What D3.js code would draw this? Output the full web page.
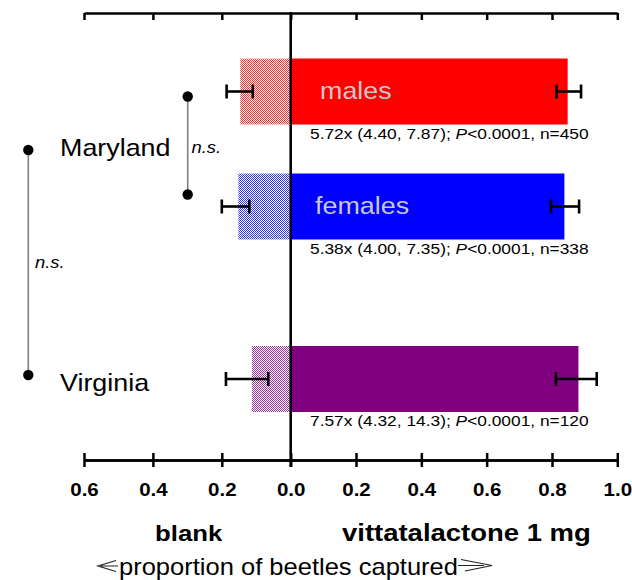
<!DOCTYPE html>
<html>
<head>
<meta charset="utf-8">
<script src="https://cdn.jsdelivr.net/npm/d3@7"></script>
<style>
  body { margin: 0; background: #fff; }
  svg { display: block; font-family: "Liberation Sans", Arial, sans-serif; }
</style>
</head>
<body>
<svg id="chart" width="632" height="580"></svg>
<script>
// Data
const groups = ["males", "females", "Virginia"];
const barLabels = ["males", "females", ""];
const colors = ["#ff0000", "#0000ff", "#800080"];

const blankMean = [0.146, 0.152, 0.113];
const blankLo = [0.110, 0.120, 0.065];
const blankHi = [0.186, 0.200, 0.188];

const lureMean = [0.848, 0.838, 0.881];
const lureLo = [0.814, 0.797, 0.812];
const lureHi = [0.889, 0.883, 0.937];

const ratios = ["5.72x (4.40, 7.87); ", "5.38x (4.00, 7.35); ", "7.57x (4.32, 14.3); "];
const pValues = ["<0.0001", "<0.0001", "<0.0001"];
const nValues = [450, 338, 120];

const tickValues = [-0.6, -0.4, -0.2, 0, 0.2, 0.4, 0.6, 0.8, 1.0];

// Layout
const rowIndex = [0, 1, 2.5];
const svg = d3.select("#chart");

// blank side (left) and lure side (right) have slightly different pixel scales
const x = d3.scaleLinear().domain([-0.6, 0, 1]).range([84, 290.7, 617.3]);
const y = d3.scaleLinear().domain([0, 2.5]).range([91.5, 379]);
const barH = 66;
const axisTopY = 13, axisBotY = 460;

// checker patterns for the blank bars
const defs = svg.append("defs");
colors.forEach((c, i) => {
    const p = defs.append("pattern")
        .attr("id", "chk" + i)
        .attr("patternUnits", "userSpaceOnUse")
        .attr("width", 2).attr("height", 2);
    p.append("rect").attr("width", 2).attr("height", 2).attr("fill", "#fff");
    p.append("rect").attr("width", 1).attr("height", 1).attr("fill", c);
    p.append("rect").attr("x", 1).attr("y", 1).attr("width", 1).attr("height", 1).attr("fill", c);
});

// stretched text helper (the figure text is wider than the font)
function label(sel, px, py, txt, size, sx, opts = {}) {
    return sel.append("text")
        .attr("transform", `translate(${px},${py}) scale(${sx},1)`)
        .attr("font-size", size)
        .attr("font-weight", opts.bold ? "bold" : null)
        .attr("font-style", opts.italic ? "italic" : null)
        .attr("text-anchor", opts.anchor || "start")
        .attr("fill", opts.fill || "#000")
        .text(txt);
}

// Bars
groups.forEach((g, i) => {
    const cy = y(rowIndex[i]);
    svg.append("rect")
        .attr("x", x(-blankMean[i]))
        .attr("y", cy - barH / 2)
        .attr("width", x(0) - x(-blankMean[i]))
        .attr("height", barH)
        .attr("fill", `url(#chk${i})`)
        .attr("opacity", 0.8);
    svg.append("rect")
        .attr("x", x(0))
        .attr("y", cy - barH / 2)
        .attr("width", x(lureMean[i]) - x(0))
        .attr("height", barH)
        .attr("fill", colors[i]);
});

// Error bars
function errBar(x0, x1, cy) {
    const e = svg.append("g").attr("stroke", "#000").attr("stroke-width", 2.6);
    e.append("line").attr("x1", x0).attr("x2", x1).attr("y1", cy).attr("y2", cy);
    [x0, x1].forEach(xx => e.append("line")
        .attr("x1", xx).attr("x2", xx).attr("y1", cy - 7).attr("y2", cy + 7));
}
groups.forEach((g, i) => {
    const cy = y(rowIndex[i]);
    errBar(x(-blankHi[i]), x(-blankLo[i]), cy);
    errBar(x(lureLo[i]), x(lureHi[i]), cy);
});

// Labels inside bars
barLabels.forEach((t, i) => {
    if (!t) return;
    label(svg, 320 - (i * 5), y(rowIndex[i]) + 7, t, 24, 1.12, { fill: "#c8c8c8" });
});

// Statistics under bars
groups.forEach((g, i) => {
    const t = svg.append("text")
        .attr("transform", `translate(310,${y(rowIndex[i]) + 47}) scale(1.12,1)`)
        .attr("font-size", 15.5)
        .attr("fill", "#000");
    t.append("tspan").text(ratios[i]);
    t.append("tspan").attr("font-style", "italic").text("P");
    t.append("tspan").text(pValues[i] + ", n=" + nValues[i]);
});

// Axes
const topAxis = d3.axisBottom(x).tickValues(tickValues).tickSize(7).tickSizeOuter(0).tickFormat("");
const botUp = d3.axisTop(x).tickValues(tickValues).tickSize(7).tickSizeOuter(0).tickFormat("");
const botDown = d3.axisBottom(x).tickValues(tickValues).tickSize(7).tickSizeOuter(0)
    .tickFormat(d => Math.abs(d).toFixed(1));

svg.append("g").attr("transform", `translate(0,${axisTopY})`).call(topAxis);
svg.append("g").attr("transform", `translate(0,${axisBotY})`).call(botUp);
const bx = svg.append("g").attr("transform", `translate(0,${axisBotY})`).call(botDown);
bx.selectAll("text")
    .attr("y", 36).attr("dy", null)
    .attr("transform", "scale(1.08,1)")
    .attr("font-size", 19)
    .attr("font-weight", "bold")
    .attr("font-family", "'Liberation Sans', Arial, sans-serif")
    .attr("fill", "#000");
svg.selectAll(".domain, .tick line").attr("stroke", "#000").attr("stroke-width", 2.5);

// centre line
svg.append("line")
    .attr("x1", x(0)).attr("x2", x(0))
    .attr("y1", axisTopY - 1).attr("y2", axisBotY + 7)
    .attr("stroke", "#000").attr("stroke-width", 2.6);

// Site labels
label(svg, 60, (y(0) + y(1)) / 2 + 7, "Maryland", 24, 1.12);
label(svg, 60, y(2.5) + 12, "Virginia", 24, 1.12);

// Comparison brackets
function bracket(bxp, y0, y1) {
    svg.append("line").attr("x1", bxp).attr("x2", bxp).attr("y1", y0).attr("y2", y1)
        .attr("stroke", "#808080").attr("stroke-width", 1.6);
    [y0, y1].forEach(yy => svg.append("circle").attr("cx", bxp).attr("cy", yy).attr("r", 5.2).attr("fill", "#000"));
}
bracket(187.7, y(0) + 5, y(1) - 12);
label(svg, 191.5, (y(0) + y(1)) / 2 + 4, "n.s.", 16, 1.15, { italic: true });
bracket(28.3, (y(0) + y(1)) / 2 + 1, y(2.5) - 4);
label(svg, 35, ((y(0) + y(1)) / 2 + y(2.5)) / 2 + 4, "n.s.", 16, 1.15, { italic: true });

// Bottom titles
label(svg, 155, 541, "blank", 23, 1.12, { bold: true });
label(svg, 342, 541, "vittatalactone 1 mg", 24, 1.145, { bold: true });
label(svg, 119, 575, "proportion of beetles captured", 23, 1.11);

// double-line arrows either side of the title
const arrows = svg.append("g").attr("fill", "none").attr("stroke", "#222").attr("stroke-width", 1.2);
arrows.append("path").attr("d", "M116,560.5 L98,566 L116,571.5 M101,566 L118,566");
arrows.append("path").attr("d", "M461,559.5 L492,565.5 L465,571 M458,565.5 L484,565.5");
</script>
</body>
</html>
